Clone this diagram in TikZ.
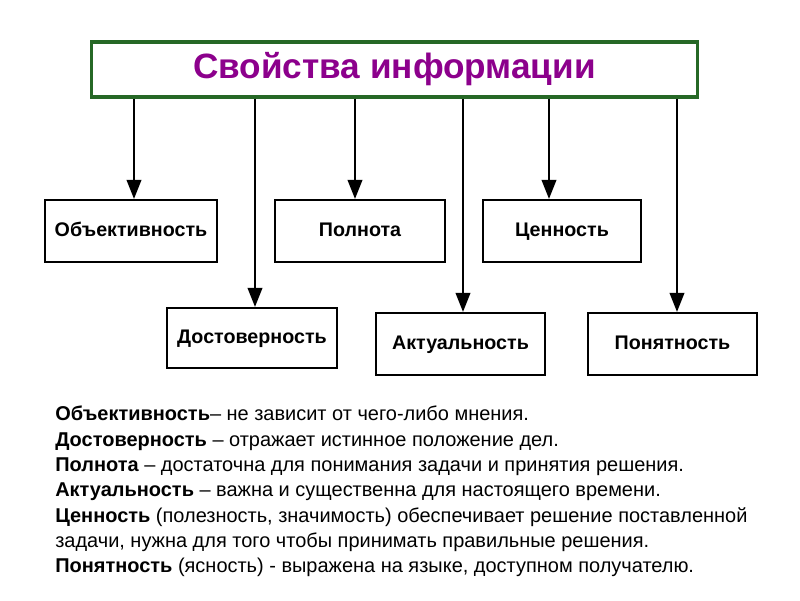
\documentclass[tikz,border=0pt]{standalone}
\usepackage{fontspec}
\setmainfont{Liberation Sans}
\usetikzlibrary{arrows.meta,positioning}
\definecolor{framegreen}{RGB}{38,104,38}
\definecolor{titlepurple}{RGB}{140,0,140}
\tikzset{
  prop/.style={draw, line width=1.4pt, minimum height=1.55cm, inner sep=0pt,
    text height=1.9ex, text depth=0.45ex,
    font=\bfseries\fontsize{14}{17}\selectfont},
  down/.style={-{Triangle[width=0.36cm,length=0.48cm]}, line width=2pt},
}

\begin{document}
\begin{tikzpicture}[x=0.025cm, y=-0.025cm]
    \useasboundingbox (0,0) rectangle (800,600);
    % Title
    \node [draw=framegreen, line width=2.2pt, minimum width=15.125cm, minimum height=1.375cm,
           text=titlepurple, font=\bfseries\fontsize{25}{30}\selectfont]
          (title) at (394.5,69.5) {Свойства информации};
    % Properties
    \node [prop, minimum width=4.3cm]  (obj)  at (131,231)   {Объективность};
    \node [prop, minimum width=4.25cm] (poln) at (360,231)   {Полнота};
    \node [prop, minimum width=3.95cm] (cen)  at (562,231)   {Ценность};
    \node [prop, minimum width=4.25cm, minimum height=1.5cm] (dost) at (252,338) {Достоверность};
    \node [prop, minimum width=4.22cm] (akt)  at (460.5,344) {Актуальность};
    \node [prop, minimum width=4.22cm] (pon)  at (672.5,344) {Понятность};
    % Arrows
    \foreach \n/\d in {obj/3, dost/3, poln/-5, akt/2.5, cen/-13, pon/4.5}
        \draw [down] ([xshift=\d*0.025cm]\n.north |- title.south) -- ([xshift=\d*0.025cm]\n.north);
    % Description
    \node [anchor=north west, align=left, inner sep=0pt, font=\fontsize{14.2}{18}\selectfont]
          (desc) at (55,406) {%
        \textbf{Объективность}– не зависит от чего-либо мнения.\\
        \textbf{Достоверность} – отражает истинное положение дел.\\
        \textbf{Полнота} – достаточна для понимания задачи и принятия решения.\\
        \textbf{Актуальность} – важна и существенна для настоящего времени.\\
        \textbf{Ценность} (полезность, значимость) обеспечивает решение поставленной\\
        задачи, нужна для того чтобы принимать правильные решения.\\
        \textbf{Понятность} (ясность) - выражена на языке, доступном получателю.};
\end{tikzpicture}
\end{document}
